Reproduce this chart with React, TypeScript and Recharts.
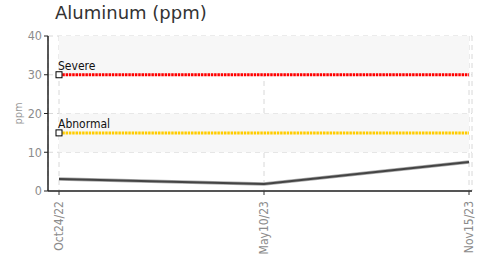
import { LineChart, Line, XAxis, YAxis, CartesianGrid, ReferenceArea } from 'recharts'

const dates = ['Oct24/22', 'May10/23', 'Nov15/23']
const aluminum = [3.1, 1.8, 7.5]
const severe = [30, 30, 30]
const abnormal = [15, 15, 15]
const yTicks = [0, 10, 20, 30, 40]

const data = dates.map((d, i) => ({
  date: d,
  value: aluminum[i],
  severe: severe[i],
  abnormal: abnormal[i],
}))

const tickFont = '"DejaVu Sans Condensed", "Liberation Sans Narrow", sans-serif'

function limitDot(label: string) {
  return (props: any) => {
    const { cx, cy, index } = props
    if (index !== 0) return <g key={`${label}-${index}`} />
    return (
      <g key={`${label}-${index}`}>
        <rect x={cx - 3} y={cy - 3} width={6} height={6} fill="#fff" stroke="#000" strokeWidth={1} />
        <text x={cx - 1} y={cy - 5} fontSize={12} fontFamily={tickFont} fill="#111">
          {label}
        </text>
      </g>
    )
  }
}

function XTick(props: any) {
  const { x, y, payload } = props
  return (
    <text
      x={x}
      y={y}
      transform={`rotate(-90 ${x} ${y})`}
      textAnchor="end"
      dy={4}
      dx={-4}
      fontSize={12}
      fontFamily={tickFont}
      fill="#8c8c8c"
    >
      {payload.value}
    </text>
  )
}

export default function App() {
  return (
    <div style={{ position: 'absolute', left: 0, top: 0, width: 477, height: 261, background: '#fff' }}>
      <div
        style={{
          position: 'absolute',
          left: 55,
          top: 2,
          fontFamily: '"DejaVu Sans", sans-serif',
          fontSize: 18,
          color: '#333',
        }}
      >
        Aluminum (ppm)
      </div>
      <LineChart width={477} height={261} data={data} margin={{ top: 36, right: 5, bottom: 0, left: 0 }}>
        <ReferenceArea y1={30} y2={40} fill="#f7f7f7" fillOpacity={1} stroke="none" />
        <ReferenceArea y1={10} y2={20} fill="#f7f7f7" fillOpacity={1} stroke="none" />
        <CartesianGrid stroke="#d8d8d8" strokeDasharray="5 4" />
        <XAxis
          dataKey="date"
          height={70}
          interval={0}
          padding={{ left: 11, right: 3 }}
          axisLine={{ stroke: '#555', strokeWidth: 2 }}
          tickLine={{ stroke: '#333' }}
          tickSize={4}
          tick={<XTick />}
        />
        <YAxis
          width={48}
          domain={[0, 40]}
          ticks={yTicks}
          axisLine={{ stroke: '#222', strokeWidth: 1.5 }}
          tickLine={{ stroke: '#222' }}
          tickSize={4}
          tick={{ fontSize: 12.5, fontFamily: tickFont, fill: '#8c8c8c' }}
          label={{
            value: 'ppm',
            angle: -90,
            position: 'insideLeft',
            offset: 18,
            style: { fontSize: 11, fontFamily: tickFont, fill: '#999', textAnchor: 'middle' },
          }}
        />
        <Line
          dataKey="severe"
          stroke="#ff0000"
          strokeWidth={3}
          strokeDasharray="2.5 0.8"
          dot={limitDot('Severe')}
          activeDot={false}
          isAnimationActive={false}
        />
        <Line
          dataKey="abnormal"
          stroke="#ffcc00"
          strokeWidth={3}
          strokeDasharray="2.5 0.8"
          dot={limitDot('Abnormal')}
          activeDot={false}
          isAnimationActive={false}
        />
        <Line
          dataKey="value"
          stroke="#aaa"
          strokeWidth={3.5}
          dot={false}
          activeDot={false}
          isAnimationActive={false}
        />
        <Line
          dataKey="value"
          stroke="#444"
          strokeWidth={2}
          dot={false}
          activeDot={false}
          isAnimationActive={false}
        />
      </LineChart>
    </div>
  )
}
